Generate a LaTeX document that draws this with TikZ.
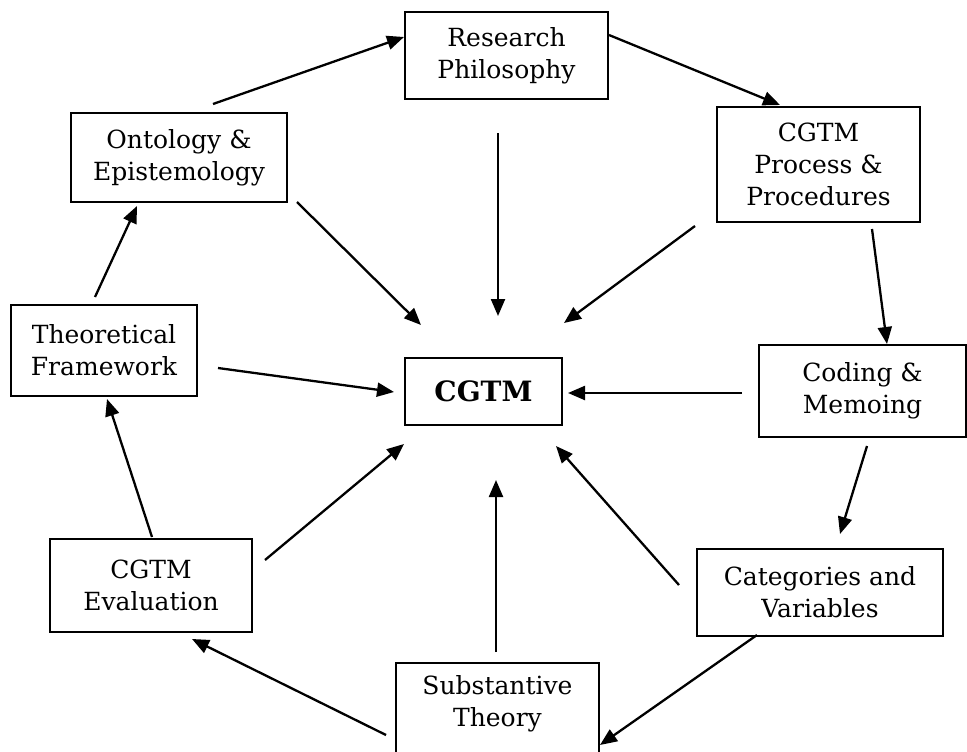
\documentclass[tikz,border=0pt]{standalone}
\usepackage{fontspec}
\setmainfont{DejaVu Serif}
\usetikzlibrary{arrows.meta,calc}

\begin{document}
\begin{tikzpicture}[x=1pt,y=-1pt,
  labelfont/.style={font=\fontsize{25}{32}\selectfont},
  box/.style={draw, line width=2pt, rectangle, align=center, inner sep=0pt, labelfont},
  arr/.style={line width=2.3pt, -{Triangle[length=17pt,width=14pt]}},
]
\useasboundingbox (0,0) rectangle (967,752);

% outer ring of stages
\node[box, minimum width=203pt, minimum height=87pt]  (rp) at (506.5,55.5) {Research\\Philosophy};
\node[box, minimum width=216pt, minimum height=89pt]  (oe) at (179,157.5)  {Ontology \&\\Epistemology};
\node[box, minimum width=203pt, minimum height=115pt] (pp) at (818.5,164.5) {CGTM\\Process \&\\Procedures};
\node[box, minimum width=207pt, minimum height=92pt]  (cm) at (862.5,391)  {Coding \&\\Memoing};
\node[box, minimum width=186pt, minimum height=91pt]  (tf) at (104,350.5)  {Theoretical\\Framework};
\node[box, minimum width=202pt, minimum height=93pt]  (ev) at (151,585.5)  {CGTM\\Evaluation};
\node[box, minimum width=246pt, minimum height=87pt]  (cv) at (820,592.5)  {Categories and\\Variables};
\node[box, minimum width=203pt, minimum height=100pt, anchor=north] (st) at (497.5,662) {};
\node[align=center, labelfont] (stt) at (497.5,704) {Substantive\\Theory};

% centre
\node[box, minimum width=157pt, minimum height=67pt,
      font=\bfseries\fontsize{28}{32}\selectfont] (c) at (483.5,391.5) {CGTM};

% cycle around the ring
\draw[arr] ($(oe.north)+(34,-8)$)      -- ($(rp.west)+(0,-18.5)$);
\draw[arr] ($(rp.east)+(0,-20.5)$)     -- ($(pp.north)+(-38.5,-1)$);
\draw[arr] ($(pp.south)+(53.5,6)$)     -- ($(cm.north)+(24.5,0)$);
\draw[arr] ($(cm.south)+(4.5,8)$)      -- ($(cv.north)+(20,-14)$);
\draw[arr] ($(cv.south)+(-63,-2)$)     -- ($(st.north)+(102.5,83)$);
\draw[arr] ($(st.north)+(-111.5,73)$)  -- ($(ev.south)+(41,6)$);
\draw[arr] ($(ev.north)+(1,-1)$)       -- ($(tf.south)+(3,2)$);
\draw[arr] ($(tf.north)+(-9,-7)$)      -- ($(oe.south)+(-42,3)$);

% spokes into the centre
\draw[arr] ($(oe.south east)+(9,-1)$)  -- ($(c.north west)+(17,-32)$);
\draw[arr] ($(rp.south)+(-8.5,33)$)    -- ($(c.north)+(14.5,-41)$);
\draw[arr] ($(pp.south west)+(-21,3)$) -- ($(c.north east)+(1,-34)$);
\draw[arr] ($(cm.west)+(-16,2)$)       -- ($(c.east)+(5,1.5)$);
\draw[arr] ($(tf.east)+(20,17.5)$)     -- ($(c.west)+(-10,0.5)$);
\draw[arr] ($(ev.east)+(12,-25.5)$)    -- ($(c.south west)+(0,18)$);
\draw[arr] ($(st.north)+(-1.5,-10)$)   -- ($(c.south)+(12.5,54)$);
\draw[arr] ($(cv.west)+(-17,-7.5)$)    -- ($(c.south east)+(-7,20)$);
\end{tikzpicture}
\end{document}
